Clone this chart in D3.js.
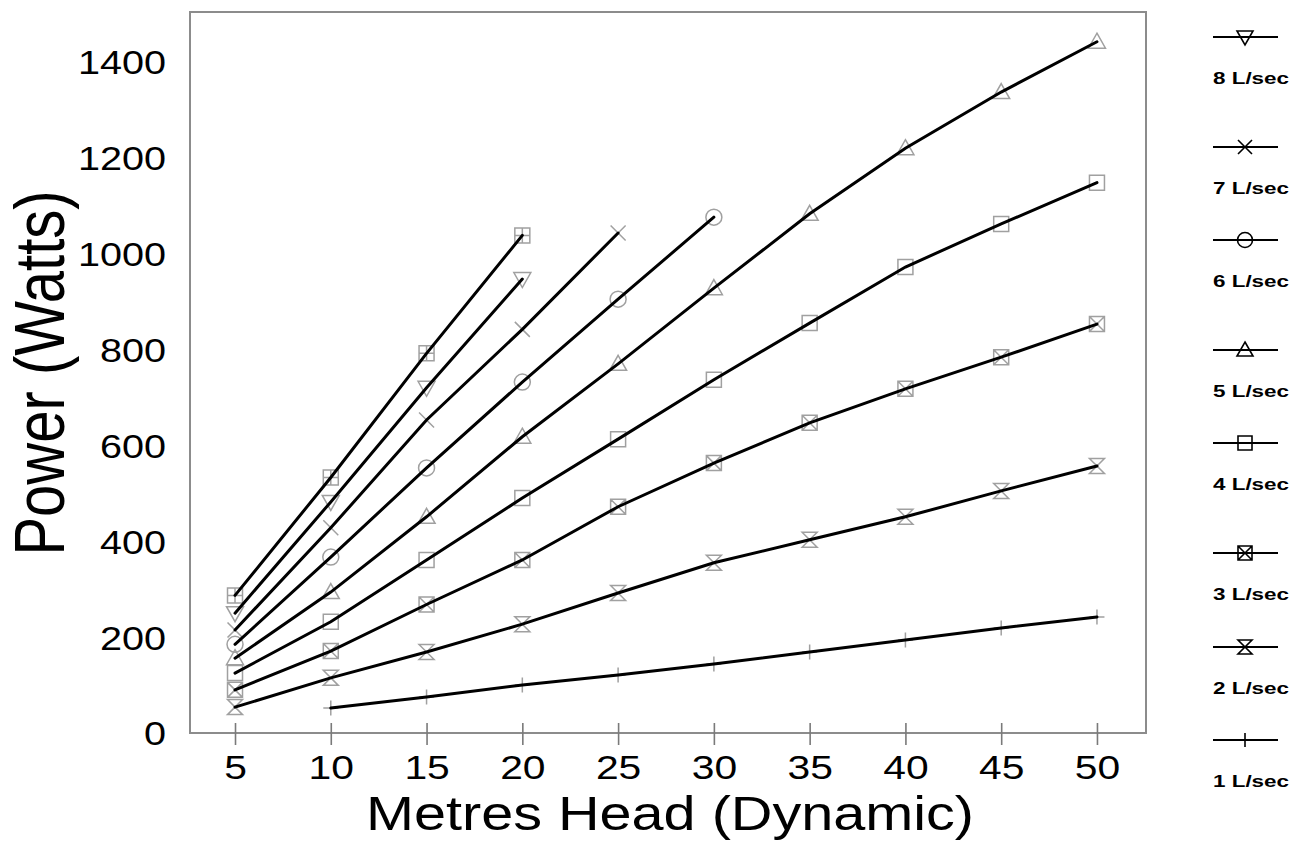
<!DOCTYPE html>
<html>
<head>
<meta charset="utf-8">
<script src="https://cdn.jsdelivr.net/npm/d3@7"></script>
<style>
  html, body { margin: 0; padding: 0; background: #ffffff; }
  svg { display: block; }
  text { font-family: "Liberation Sans", Arial, Helvetica, sans-serif; fill: #000; }
</style>
</head>
<body>
<svg id="chart" width="1305" height="841"></svg>
<script>
// ---------- data ----------
const heads = [5, 10, 15, 20, 25, 30, 35, 40, 45, 50];
const seriesNames = ["1 L/sec", "2 L/sec", "3 L/sec", "4 L/sec", "5 L/sec", "6 L/sec", "7 L/sec", "8 L/sec", "9 L/sec"];
const seriesShapes = ["plus", "hourglass", "boxX", "square", "triUp", "circle", "cross", "triDown", "boxPlus"];
const flow1 = [null, 52, 75, 100, 121, 144, 169, 194, 219, 242];
const flow2 = [54, 115, 169, 227, 292, 355, 403, 451, 505, 557];
const flow3 = [90, 171, 268, 361, 472, 563, 647, 718, 784, 853];
const flow4 = [125, 232, 361, 490, 613, 737, 855, 972, 1062, 1148];
const flow5 = [156, 294, 451, 618, 770, 928, 1083, 1220, 1337, 1442];
const flow6 = [185, 367, 553, 732, 905, 1076, null, null, null, null];
const flow7 = [215, 428, 653, 842, 1043, null, null, null, null, null];
const flow8 = [250, 482, 720, 947, null, null, null, null, null, null];
const flow9 = [287, 533, 792, 1038, null, null, null, null, null, null];
const seriesValues = [flow1, flow2, flow3, flow4, flow5, flow6, flow7, flow8, flow9];
const xTicks = [5, 10, 15, 20, 25, 30, 35, 40, 45, 50];
const yTicks = [0, 200, 400, 600, 800, 1000, 1200, 1400];
const legendOrder = ["8 L/sec", "7 L/sec", "6 L/sec", "5 L/sec", "4 L/sec", "3 L/sec", "2 L/sec", "1 L/sec"];
const xTitle = "Metres Head (Dynamic)";
const yTitle = "Power (Watts)";

// ---------- layout ----------
const plot = { left: 190, top: 12, right: 1146, bottom: 733 };
const legendLineY = [37, 147, 240, 350, 443, 553, 647, 740];
const SX = 1.2; // horizontal stretch of the original rendering

const svg = d3.select("#chart");

const x = d3.scaleLinear().domain([2.65, 52.56]).range([plot.left, plot.right]);
const y = d3.scaleLinear().domain([0, 1504]).range([plot.bottom, plot.top]);

// frame
svg.append("rect")
  .attr("x", plot.left).attr("y", plot.top)
  .attr("width", plot.right - plot.left).attr("height", plot.bottom - plot.top)
  .attr("fill", "#fff").attr("stroke", "#8c8c8c").attr("stroke-width", 2);

// y axis
const yAxis = svg.append("g")
  .attr("transform", `translate(${plot.left},0)`)
  .call(d3.axisLeft(y).tickValues(yTicks).tickSize(0).tickPadding(24).tickFormat(d3.format("d")));
yAxis.select(".domain").remove();
yAxis.selectAll(".tick text")
  .attr("font-size", 33)
  .attr("font-family", "Liberation Sans, Arial, sans-serif")
  .attr("fill", "#000")
  .attr("dy", "0.36em")
  .each(function () {
    const t = d3.select(this);
    const tx = +t.attr("x");
    t.attr("x", 0).attr("transform", `translate(${tx},0) scale(${SX},1)`);
  });

// x axis
const xAxis = svg.append("g")
  .attr("transform", `translate(0,${plot.bottom})`)
  .call(d3.axisBottom(x).tickValues(xTicks).tickSize(12).tickPadding(10).tickFormat(d3.format("d")));
xAxis.select(".domain").remove();
xAxis.selectAll(".tick line")
  .attr("y1", -10).attr("y2", 12)
  .attr("stroke", "#7a7a7a").attr("stroke-width", 1.6);
xAxis.selectAll(".tick text")
  .attr("font-size", 34)
  .attr("font-family", "Liberation Sans, Arial, sans-serif")
  .attr("fill", "#000")
  .attr("y", 0).attr("dy", 0)
  .attr("transform", `translate(0,46) scale(${SX},1)`);

// axis titles
svg.append("text")
  .attr("transform", `translate(${(plot.left + plot.right) / 2 + 2},830) scale(${SX},1)`)
  .attr("text-anchor", "middle")
  .attr("font-size", 48)
  .text(xTitle);

svg.append("text")
  .attr("transform", `translate(64,373) scale(${SX},1) rotate(-90)`)
  .attr("text-anchor", "middle")
  .attr("font-size", 58)
  .text(yTitle);

// marker shapes
function markerPath(shape, s) {
  const h = s / 2;
  switch (shape) {
    case "plus": return `M0,${-h}V${h}M${-h},0H${h}`;
    case "hourglass": return `M${-h},${-h}H${h}L${-h},${h}H${h}Z`;
    case "boxX": return `M${-h},${-h}H${h}V${h}H${-h}Z M${-h},${-h}L${h},${h}M${h},${-h}L${-h},${h}`;
    case "square": return `M${-h},${-h}H${h}V${h}H${-h}Z`;
    case "boxPlus": return `M${-h},${-h}H${h}V${h}H${-h}Z M0,${-h}V${h}M${-h},0H${h}`;
    case "triUp": return `M0,${-h - 1}L${h + 1},${h - 1}H${-h - 1}Z`;
    case "triDown": return `M${-h - 1},${-h + 1}H${h + 1}L0,${h + 1}Z`;
    case "cross": return `M${-h},${-h}L${h},${h}M${h},${-h}L${-h},${h}`;
    case "circle": {
      const r = h + 0.5;
      return `M${r},0A${r},${r} 0 1,1 ${-r},0A${r},${r} 0 1,1 ${r},0Z`;
    }
  }
  return "";
}

const series = seriesNames.map((name, i) => ({
  name,
  shape: seriesShapes[i],
  points: heads.map((h, j) => ({ h, v: seriesValues[i][j] })).filter(p => p.v !== null)
}));

const line = d3.line().x(d => x(d.h)).y(d => y(d.v));

// markers (grey, beneath lines)
const mg = svg.append("g");
series.forEach(s => {
  mg.selectAll(null).data(s.points).enter().append("path")
    .attr("transform", d => `translate(${x(d.h)},${y(d.v)})`)
    .attr("d", markerPath(s.shape, 15))
    .attr("fill", "none")
    .attr("stroke", "#a0a0a0")
    .attr("stroke-width", 1.5);
});

// lines
const lg = svg.append("g");
series.forEach(s => {
  lg.append("path")
    .datum(s.points)
    .attr("d", line)
    .attr("fill", "none")
    .attr("stroke", "#000")
    .attr("stroke-width", 3)
    .attr("stroke-linecap", "round");
});

// legend
const leg = svg.append("g");
legendOrder.forEach((name, k) => {
  const s = series.find(d => d.name === name);
  const ly = legendLineY[k];
  leg.append("line")
    .attr("x1", 1213).attr("x2", 1278).attr("y1", ly).attr("y2", ly)
    .attr("stroke", "#000").attr("stroke-width", 2.2);
  leg.append("path")
    .attr("transform", `translate(1245,${ly})`)
    .attr("d", markerPath(s.shape, 14))
    .attr("fill", "none").attr("stroke", "#000").attr("stroke-width", 1.6);
  leg.append("text")
    .attr("x", 1213).attr("y", ly + 47)
    .attr("font-size", 16)
    .attr("font-weight", "bold")
    .attr("textLength", 76)
    .attr("lengthAdjust", "spacingAndGlyphs")
    .text(name);
});
</script>
</body>
</html>
